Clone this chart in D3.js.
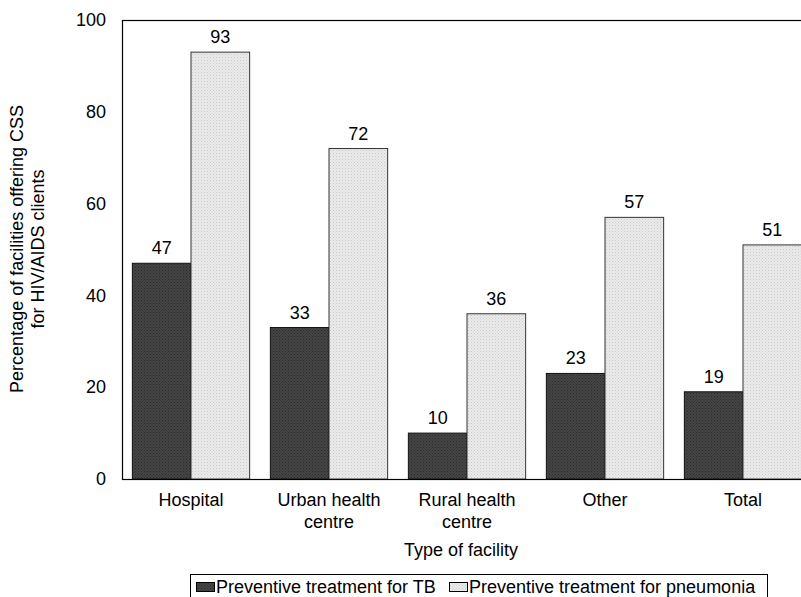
<!DOCTYPE html>
<html>
<head>
<meta charset="utf-8">
<script src="https://cdn.jsdelivr.net/npm/d3@7"></script>
<style>
  html, body { margin: 0; padding: 0; background: #fff; }
  svg { display: block; font-family: "Liberation Sans", Arial, sans-serif; }
</style>
</head>
<body>
<svg id="chart" width="801" height="597"></svg>
<script>
// Facility categories (two-line labels where the text wraps)
const categories = ["Hospital", "Urban health centre", "Rural health centre", "Other", "Total"];
const categoryLines = [["Hospital"], ["Urban health", "centre"], ["Rural health", "centre"], ["Other"], ["Total"]];
const seriesNames = ["Preventive treatment for TB", "Preventive treatment for pneumonia"];
const tbValues = [47, 33, 10, 23, 19];
const pneumoniaValues = [93, 72, 36, 57, 51];
const yTicks = [0, 20, 40, 60, 80, 100];

const FONT = 18;
const svg = d3.select("#chart");
const margin = { left: 122, top: 20, right: 812, bottom: 479 };

const x = d3.scaleBand().domain(categories).range([margin.left, margin.right]).paddingInner(0.15).paddingOuter(0.075);
const xSub = d3.scaleBand().domain(seriesNames).range([0, x.bandwidth()]);
const y = d3.scaleLinear().domain([0, 100]).range([margin.bottom, margin.top]);

// Dotted fill textures for the two series
const defs = svg.append("defs");
const pDark = defs.append("pattern").attr("id", "patDark").attr("patternUnits", "userSpaceOnUse").attr("width", 3).attr("height", 3);
pDark.append("rect").attr("width", 3).attr("height", 3).attr("fill", "#454545");
pDark.append("rect").attr("width", 1).attr("height", 1).attr("fill", "#2b2b2b");
pDark.append("rect").attr("x", 1.5).attr("y", 1.5).attr("width", 1).attr("height", 1).attr("fill", "#2b2b2b");
const pLight = defs.append("pattern").attr("id", "patLight").attr("patternUnits", "userSpaceOnUse").attr("width", 3).attr("height", 3);
pLight.append("rect").attr("width", 3).attr("height", 3).attr("fill", "#ebebeb");
pLight.append("rect").attr("width", 1).attr("height", 1).attr("fill", "#c8c8c8");
pLight.append("rect").attr("x", 1.5).attr("y", 1.5).attr("width", 1).attr("height", 1).attr("fill", "#d2d2d2");
const fills = ["url(#patDark)", "url(#patLight)"];
const strokes = ["#111", "#333"];

// Plot frame
svg.append("rect")
  .attr("x", margin.left + 0.5).attr("y", margin.top + 0.5)
  .attr("width", margin.right - margin.left).attr("height", margin.bottom - margin.top)
  .attr("fill", "none").attr("stroke", "#000").attr("stroke-width", 1.2);

// Bars with value labels
const seriesData = [tbValues, pneumoniaValues];
seriesData.forEach((vals, s) => {
  const g = svg.append("g");
  g.selectAll("rect").data(vals).join("rect")
    .attr("x", (d, i) => x(categories[i]) + xSub(seriesNames[s]))
    .attr("y", d => y(d))
    .attr("width", xSub.bandwidth())
    .attr("height", d => y(0) - y(d))
    .attr("fill", fills[s]).attr("stroke", strokes[s]).attr("stroke-width", 1);
  g.selectAll("text").data(vals).join("text")
    .attr("x", (d, i) => x(categories[i]) + xSub(seriesNames[s]) + xSub.bandwidth() / 2)
    .attr("y", d => y(d) - 9)
    .attr("text-anchor", "middle").attr("font-size", FONT).attr("fill", "#000")
    .text(d => d);
});

// Baseline
svg.append("line").attr("x1", margin.left).attr("x2", margin.right)
  .attr("y1", y(0) + 0.5).attr("y2", y(0) + 0.5).attr("stroke", "#000").attr("stroke-width", 1.2);

// Y axis tick labels
const yAxis = d3.axisLeft(y).tickValues(yTicks).tickSize(0).tickPadding(16);
const yg = svg.append("g").attr("transform", `translate(${margin.left},0)`).call(yAxis);
yg.select(".domain").remove();
yg.attr("font-size", FONT).attr("font-family", "Liberation Sans, Arial, sans-serif");
yg.selectAll("text").attr("fill", "#000");

// X axis category labels
const xg = svg.append("g");
categories.forEach((c, i) => {
  const cx = x(c) + x.bandwidth() / 2;
  const t = xg.append("text").attr("x", cx).attr("y", 506)
    .attr("text-anchor", "middle").attr("font-size", FONT).attr("fill", "#000");
  categoryLines[i].forEach((line, k) => {
    t.append("tspan").attr("x", cx).attr("dy", k === 0 ? 0 : 22).text(line);
  });
});

// Axis titles
svg.append("text").attr("x", 461).attr("y", 556).attr("text-anchor", "middle")
  .attr("font-size", FONT).attr("fill", "#000").text("Type of facility");
const yt = svg.append("text").attr("transform", "translate(23,249) rotate(-90)")
  .attr("text-anchor", "middle").attr("font-size", FONT).attr("fill", "#000");
yt.append("tspan").attr("x", 0).attr("dy", 0).text("Percentage of facilities offering CSS");
yt.append("tspan").attr("x", 0).attr("dy", 21).text("for HIV/AIDS clients");

// Legend
const lg = svg.append("g");
lg.append("rect").attr("x", 190.5).attr("y", 574.5).attr("width", 577).attr("height", 30)
  .attr("fill", "#fff").attr("stroke", "#000").attr("stroke-width", 1);
const legendX = [196, 449];
seriesNames.forEach((n, s) => {
  lg.append("rect").attr("x", legendX[s] + 0.5).attr("y", 582.5).attr("width", 18).attr("height", 9)
    .attr("fill", fills[s]).attr("stroke", "#000").attr("stroke-width", 1);
  lg.append("text").attr("x", legendX[s] + 20).attr("y", 593).attr("font-size", FONT).attr("fill", "#000").text(n);
});
</script>
</body>
</html>
